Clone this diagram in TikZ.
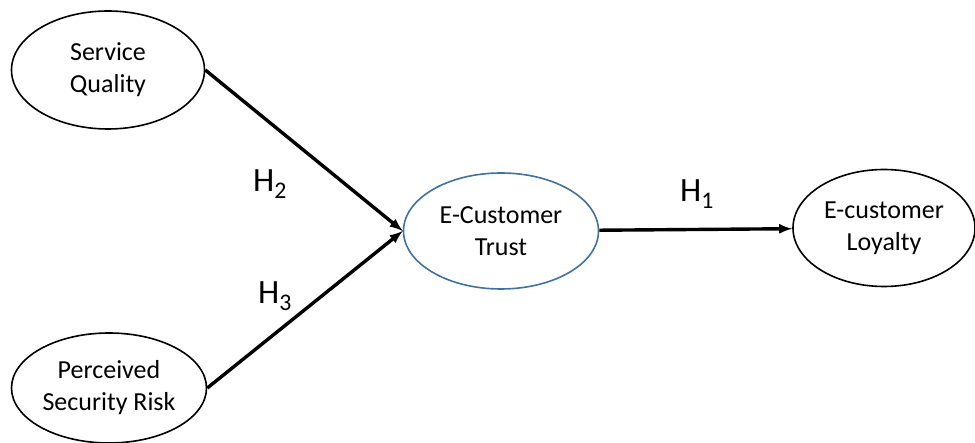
\documentclass[tikz,border=0pt]{standalone}
\usepackage{fontspec}
\setmainfont{Carlito}
\usepackage{tikz}
\usetikzlibrary{arrows,shapes.geometric}
\definecolor{trustblue}{RGB}{65,113,156}

\tikzset{
  construct/.style={ellipse,draw,line width=1.6pt,inner sep=0pt,align=center,
    font=\fontsize{26}{32}\selectfont},
  path/.style={->,line width=3.4pt},
  hyp/.style={font=\fontsize{34}{34}\selectfont}
}

\begin{document}
\begin{tikzpicture}[>=latex,x=1pt,y=-1pt]
   \useasboundingbox (0,0) rectangle (975,443);

   \node[construct,minimum width=193pt,minimum height=118pt] (sq) at (108,70) {Service\\Quality};
   \node[construct,minimum width=195pt,minimum height=110pt] (psr) at (109,388) {Perceived\\Security Risk};
   \node[construct,draw=trustblue,minimum width=195pt,minimum height=116pt] (ect) at (501,231) {E-Customer\\Trust};
   \node[construct,minimum width=182pt,minimum height=117pt] (ecl) at (884,228) {E-customer\\Loyalty};

   \node[hyp] (h2) at (270,184) {H\textsubscript{2}};
   \node[hyp] (h3) at (275,296) {H\textsubscript{3}};
   \node[hyp] (h1) at (697,194) {H\textsubscript{1}};

   \draw [path] (sq.east) -- (ect.west) ;
   \draw [path] (psr.east) -- (ect.west) ;
   \draw [path] (ect) -- (ecl) ;
\end{tikzpicture}
\end{document}
